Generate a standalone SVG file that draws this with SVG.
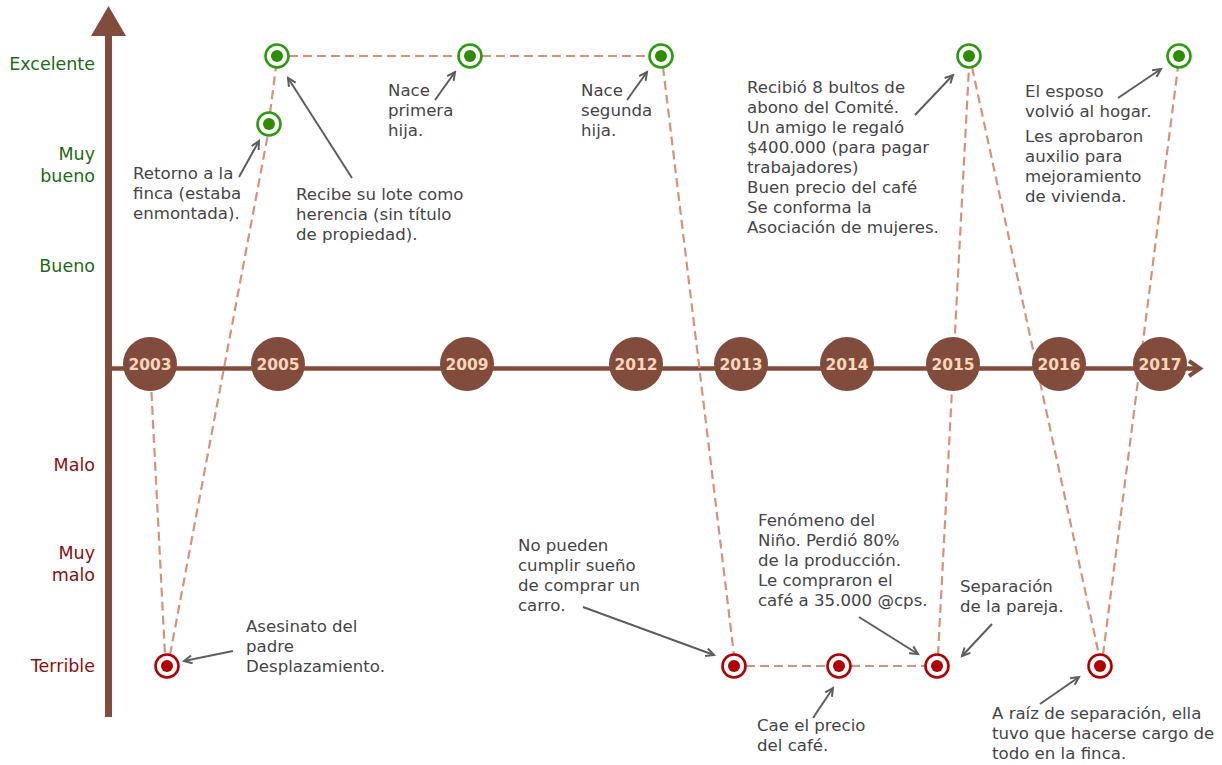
<svg xmlns="http://www.w3.org/2000/svg" width="1222" height="765" viewBox="0 0 1222 765">
<style>
.t{font-family:"DejaVu Sans","Liberation Sans",sans-serif;font-size:16.6px;fill:#454545}
.lg{font-family:"DejaVu Sans","Liberation Sans",sans-serif;font-size:17.5px;fill:#1d6b17;text-anchor:end}
.lr{font-family:"DejaVu Sans","Liberation Sans",sans-serif;font-size:17.5px;fill:#8a0f0f;text-anchor:end}
.yc{fill:#814c3b}
.yt{font-family:"DejaVu Sans","Liberation Sans",sans-serif;font-size:15.5px;font-weight:bold;fill:#fad6b8;text-anchor:middle}
.d{stroke:#d4927c;stroke-width:2.2;stroke-dasharray:9 5;fill:none}
.a{stroke:#5e5e5e;stroke-width:2;fill:none;marker-end:url(#ah)}
.go{fill:#fff;stroke:#2e9a12;stroke-width:2.6}
.gi{fill:#2d8c00}
.ro{fill:#fff;stroke:#b00000;stroke-width:2.6}
.ri{fill:#b00000}
</style>
<defs>
<marker id="ah" markerUnits="userSpaceOnUse" markerWidth="12" markerHeight="12" refX="9" refY="5" orient="auto">
<path d="M1,1 L9,5 L1,9" fill="none" stroke="#5e5e5e" stroke-width="2"/>
</marker>
</defs>
<rect width="1222" height="765" fill="#fff"/>

<g id="axes">
<rect x="105" y="34" width="7" height="683" fill="#814c3b"/>
<polygon points="108.5,6 91,36 126,36" fill="#814c3b"/>
<line x1="111" y1="368.5" x2="1199" y2="368.5" stroke="#814c3b" stroke-width="4.5"/>
<polyline points="1189,361 1200,368.5 1189,376" fill="none" stroke="#814c3b" stroke-width="4"/>
</g>

<g id="axis-labels">
<text class="lg" x="95" y="70">Excelente</text>
<text class="lg" x="95" y="160">Muy</text>
<text class="lg" x="95" y="182">bueno</text>
<text class="lg" x="95" y="272">Bueno</text>
<text class="lr" x="95" y="471">Malo</text>
<text class="lr" x="95" y="559">Muy</text>
<text class="lr" x="95" y="581">malo</text>
<text class="lr" x="95" y="672">Terrible</text>
</g>

<g id="connectors">
<line class="d" x1="150" y1="364" x2="165" y2="655"/>
<line class="d" x1="170" y1="655" x2="268" y2="134"/>
<line class="d" x1="270" y1="113" x2="276" y2="67"/>
<line class="d" x1="289" y1="56" x2="459" y2="56"/>
<line class="d" x1="482" y1="56" x2="650" y2="56"/>
<line class="d" x1="663" y1="67" x2="734" y2="655"/>
<line class="d" x1="746" y1="666" x2="827" y2="666"/>
<line class="d" x1="851" y1="666" x2="925" y2="666"/>
<line class="d" x1="938" y1="655" x2="969" y2="67"/>
<line class="d" x1="972" y1="67" x2="1099" y2="655"/>
<line class="d" x1="1103" y1="655" x2="1178" y2="67"/>

<line class="a" x1="239" y1="177" x2="259" y2="141"/>
<line class="a" x1="352" y1="178" x2="288" y2="78"/>
<line class="a" x1="435" y1="100" x2="455" y2="72"/>
<line class="a" x1="627" y1="100" x2="647" y2="72"/>
<line class="a" x1="915" y1="115" x2="953" y2="75"/>
<line class="a" x1="1118" y1="98" x2="1161" y2="69"/>
<line class="a" x1="233" y1="651" x2="184" y2="661"/>
<line class="a" x1="583" y1="607" x2="714" y2="655"/>
<line class="a" x1="859" y1="617" x2="918" y2="654"/>
<line class="a" x1="813" y1="718" x2="833" y2="688"/>
<line class="a" x1="992" y1="624" x2="962" y2="656"/>
<line class="a" x1="1040" y1="704" x2="1079" y2="677"/>
</g>

<g id="y2003"><circle class="yc" cx="150" cy="364" r="27"/><text class="yt" x="150" y="370">2003</text></g>
<g id="y2005"><circle class="yc" cx="278" cy="364" r="27"/><text class="yt" x="278" y="370">2005</text></g>
<g id="y2009"><circle class="yc" cx="467" cy="364" r="27"/><text class="yt" x="467" y="370">2009</text></g>
<g id="y2012"><circle class="yc" cx="636" cy="364" r="27"/><text class="yt" x="636" y="370">2012</text></g>
<g id="y2013"><circle class="yc" cx="741" cy="364" r="27"/><text class="yt" x="741" y="370">2013</text></g>
<g id="y2014"><circle class="yc" cx="847" cy="364" r="27"/><text class="yt" x="847" y="370">2014</text></g>
<g id="y2015"><circle class="yc" cx="953" cy="364" r="27"/><text class="yt" x="953" y="370">2015</text></g>
<g id="y2016"><circle class="yc" cx="1059" cy="364" r="27"/><text class="yt" x="1059" y="370">2016</text></g>
<g id="y2017"><circle class="yc" cx="1160" cy="364" r="27"/><text class="yt" x="1160" y="370">2017</text></g>

<g id="m1"><circle class="ro" cx="167" cy="666" r="11.5"/><circle class="ri" cx="167" cy="666" r="6"/></g>
<g id="m2"><circle class="go" cx="269" cy="124" r="11.5"/><circle class="gi" cx="269" cy="124" r="6"/></g>
<g id="m3"><circle class="go" cx="277" cy="56" r="11.5"/><circle class="gi" cx="277" cy="56" r="6"/></g>
<g id="m4"><circle class="go" cx="470" cy="56" r="11.5"/><circle class="gi" cx="470" cy="56" r="6"/></g>
<g id="m5"><circle class="go" cx="661" cy="56" r="11.5"/><circle class="gi" cx="661" cy="56" r="6"/></g>
<g id="m6"><circle class="ro" cx="734" cy="666" r="11.5"/><circle class="ri" cx="734" cy="666" r="6"/></g>
<g id="m7"><circle class="ro" cx="839" cy="666" r="11.5"/><circle class="ri" cx="839" cy="666" r="6"/></g>
<g id="m8"><circle class="ro" cx="937" cy="666" r="11.5"/><circle class="ri" cx="937" cy="666" r="6"/></g>
<g id="m9"><circle class="go" cx="969" cy="56" r="11.5"/><circle class="gi" cx="969" cy="56" r="6"/></g>
<g id="m10"><circle class="ro" cx="1100" cy="666" r="11.5"/><circle class="ri" cx="1100" cy="666" r="6"/></g>
<g id="m11"><circle class="go" cx="1179" cy="56" r="11.5"/><circle class="gi" cx="1179" cy="56" r="6"/></g>

<g id="n-retorno"><text class="t" x="133" y="179">Retorno a la</text><text class="t" x="133" y="199">finca (estaba</text><text class="t" x="133" y="219">enmontada).</text></g>
<g id="n-recibe"><text class="t" x="296" y="200">Recibe su lote como</text><text class="t" x="296" y="220">herencia (sin título</text><text class="t" x="296" y="240">de propiedad).</text></g>
<g id="n-primera"><text class="t" x="388" y="96">Nace</text><text class="t" x="388" y="116">primera</text><text class="t" x="388" y="136">hija.</text></g>
<g id="n-segunda"><text class="t" x="581" y="96">Nace</text><text class="t" x="581" y="116">segunda</text><text class="t" x="581" y="136">hija.</text></g>
<g id="n-recibio"><text class="t" x="747" y="93">Recibió 8 bultos de</text><text class="t" x="747" y="113">abono del Comité.</text><text class="t" x="747" y="133">Un amigo le regaló</text><text class="t" x="747" y="153">$400.000 (para pagar</text><text class="t" x="747" y="173">trabajadores)</text><text class="t" x="747" y="193">Buen precio del café</text><text class="t" x="747" y="213">Se conforma la</text><text class="t" x="747" y="233">Asociación de mujeres.</text></g>
<g id="n-esposo"><text class="t" x="1025" y="97">El esposo</text><text class="t" x="1025" y="117">volvió al hogar.</text><text class="t" x="1025" y="142">Les aprobaron</text><text class="t" x="1025" y="162">auxilio para</text><text class="t" x="1025" y="182">mejoramiento</text><text class="t" x="1025" y="202">de vivienda.</text></g>
<g id="n-asesinato"><text class="t" x="246" y="632">Asesinato del</text><text class="t" x="246" y="652">padre</text><text class="t" x="246" y="672">Desplazamiento.</text></g>
<g id="n-carro"><text class="t" x="518" y="551">No pueden</text><text class="t" x="518" y="571">cumplir sueño</text><text class="t" x="518" y="591">de comprar un</text><text class="t" x="518" y="611">carro.</text></g>
<g id="n-nino"><text class="t" x="758" y="526">Fenómeno del</text><text class="t" x="758" y="546">Niño. Perdió 80%</text><text class="t" x="758" y="566">de la producción.</text><text class="t" x="758" y="586">Le compraron el</text><text class="t" x="758" y="606">café a 35.000 @cps.</text></g>
<g id="n-cae"><text class="t" x="757" y="731">Cae el precio</text><text class="t" x="757" y="751">del café.</text></g>
<g id="n-separacion"><text class="t" x="960" y="592">Separación</text><text class="t" x="960" y="612">de la pareja.</text></g>
<g id="n-raiz"><text class="t" x="992" y="719">A raíz de separación, ella</text><text class="t" x="992" y="739">tuvo que hacerse cargo de</text><text class="t" x="992" y="759">todo en la finca.</text></g>
</svg>
